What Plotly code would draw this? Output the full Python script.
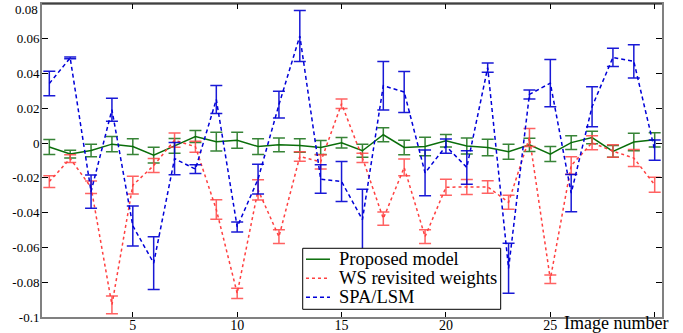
import plotly.graph_objects as go

images = list(range(1, 31))

proposed = [-0.0022, -0.0063, -0.0043, -0.0006, -0.0020, -0.0069, -0.0016, 0.0038, 0.0008, 0.0017,
            -0.0020, -0.0010, -0.0014, -0.0025, 0.0002, -0.0044, 0.0048, -0.0025, -0.0020, 0.0013,
            -0.0017, -0.0025, -0.0050, -0.0010, -0.0063, 0.0003, 0.0032, -0.0048, 0.0006, 0.0019]
proposed_err = [0.0043, 0.0022, 0.0036, 0.0044, 0.0045, 0.0045, 0.0042, 0.0034, 0.0054, 0.0046,
                0.0045, 0.0040, 0.0039, 0.0040, 0.0030, 0.0038, 0.0040, 0.0042, 0.0053, 0.0036,
                0.0046, 0.0047, 0.0043, 0.0038, 0.0043, 0.0040, 0.0036, 0.0034, 0.0050, 0.0041]

ws = [-0.0221, -0.0089, -0.0254, -0.0930, -0.0242, -0.0129, 0.0017, -0.0021, -0.0382, -0.0864,
      -0.0269, -0.0538, -0.0077, -0.0108, 0.0226, -0.0085, -0.0434, -0.0140, -0.0538, -0.0254,
      -0.0252, -0.0252, -0.0340, 0.0032, -0.0783, -0.0129, 0.0002, -0.0046, -0.0086, -0.0240]
ws_err = [0.0034, 0.0022, 0.0036, 0.0051, 0.0051, 0.0040, 0.0041, 0.0032, 0.0056, 0.0029,
          0.0058, 0.0040, 0.0028, 0.0041, 0.0027, 0.0027, 0.0038, 0.0048, 0.0040, 0.0046,
          0.0043, 0.0036, 0.0040, 0.0052, 0.0025, 0.0050, 0.0040, 0.0036, 0.0049, 0.0043]

spa = [0.0343, 0.0490, -0.0279, 0.0192, -0.0476, -0.0690, -0.0089, -0.0150, 0.0251, -0.0482,
       -0.0207, 0.0221, 0.0616, -0.0207, -0.0221, -0.0440, 0.0330, 0.0294, -0.0171, -0.0017,
       -0.0140, 0.0434, -0.0720, 0.0280, 0.0345, -0.0288, 0.0209, 0.0493, 0.0470, -0.0040]
spa_err = [0.0070, 0.0005, 0.0095, 0.0066, 0.0115, 0.0152, 0.0093, 0.0025, 0.0080, 0.0029,
           0.0086, 0.0077, 0.0146, 0.0082, 0.0115, 0.0175, 0.0139, 0.0118, 0.0132, 0.0041,
           0.0096, 0.0026, 0.0144, 0.0026, 0.0136, 0.0107, 0.0115, 0.0053, 0.0096, 0.0058]

series_names = ["Proposed model", "WS revisited weights", "SPA/LSM"]

y_tickvals = [0.08, 0.06, 0.04, 0.02, 0, -0.02, -0.04, -0.06, -0.08, -0.1]
y_ticktext = ["", "0.06", "0.04", "0.02", "0", "-0.02", "-0.04", "-0.06", "-0.08", "-0.1"]
y_top_label = "0.08"
x_tickvals = [5, 10, 15, 20, 25, 30]
x_ticktext = ["5", "10", "15", "20", "25", ""]

SERIF = "Times New Roman"

styles = [
    dict(line=dict(color="#0a6e0a", width=1.5), err="rgba(20,110,20,0.85)"),
    dict(line=dict(color="#ff4040", width=1.5, dash="dot"), err="rgba(255,70,70,0.85)"),
    dict(line=dict(color="#0000d8", width=1.5, dash="4px,3px"), err="rgba(0,0,210,0.9)"),
]
values = [proposed, ws, spa]
errors = [proposed_err, ws_err, spa_err]

fig = go.Figure()
for name, vals, errs, st in zip(series_names, values, errors, styles):
    fig.add_trace(go.Scatter(
        x=images, y=vals, name=name, mode="lines", line=st["line"],
        error_y=dict(type="data", array=errs, color=st["err"], thickness=1.5, width=6),
    ))

# hand-built legend box (matplotlib-like compact legend)
shapes = [
    dict(type="line", xref="paper", yref="paper", x0=0, x1=1, y0=1, y1=1,
         line=dict(color="black", width=1.2)),
    dict(type="rect", xref="paper", yref="paper", x0=0.4205, x1=0.7398, y0=0.0246, y1=0.2195,
         fillcolor="white", line=dict(color="black", width=1), layer="above"),
]
annotations = [
    dict(text="Image number", xref="paper", yref="paper", x=1.0129, y=-0.019,
         xanchor="right", yanchor="middle", showarrow=False,
         font=dict(family=SERIF, size=18, color="black")),
    dict(text=y_top_label, xref="paper", yref="paper", x=-0.003, y=0.983,
         xanchor="right", yanchor="middle", showarrow=False,
         font=dict(family=SERIF, size=13, color="black")),
]
row_y = [0.1846, 0.1239, 0.0632]
for name, st, ry in zip(series_names, styles, row_y):
    shapes.append(dict(type="line", xref="paper", yref="paper", x0=0.4258, x1=0.4645, y0=ry, y1=ry,
                       line=st["line"], layer="above"))
    annotations.append(dict(text=name, xref="paper", yref="paper", x=0.4758, y=ry,
                            xanchor="left", yanchor="middle", showarrow=False,
                            font=dict(family=SERIF, size=18.5, color="black")))

fig.update_layout(
    width=683, height=333,
    margin=dict(l=42, r=21, t=4, b=16, autoexpand=False),
    paper_bgcolor="white", plot_bgcolor="white",
    font=dict(family=SERIF, size=13, color="black"),
    showlegend=False,
    xaxis=dict(
        range=[0.65, 30.35], tickvals=x_tickvals, ticktext=x_ticktext,
        ticks="inside", ticklen=5, tickcolor="black", tickwidth=1,
        showline=True, linecolor="#808080", linewidth=2, mirror="ticks",
        showgrid=False, zeroline=False, automargin=False,
        tickfont=dict(family=SERIF, size=14), ticklabelstandoff=-6,
    ),
    yaxis=dict(
        range=[-0.1, 0.08], tickvals=y_tickvals, ticktext=y_ticktext,
        ticks="inside", ticklen=6, tickcolor="black", tickwidth=1,
        showline=True, linecolor="#808080", linewidth=2, mirror="ticks",
        showgrid=False, zeroline=False, automargin=False,
        tickfont=dict(family=SERIF, size=13), ticklabelstandoff=-2,
    ),
    shapes=shapes,
    annotations=annotations,
)

fig.write_html("out.html", config={"displayModeBar": False},
               post_script="document.body.style.margin='0';document.body.style.overflow='hidden';")
